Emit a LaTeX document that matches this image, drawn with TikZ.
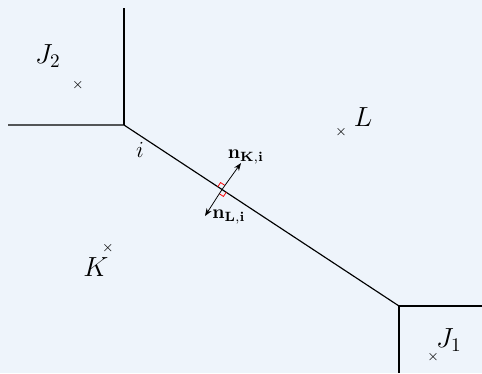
\documentclass[tikz,border=0pt]{standalone}
\usepackage{amsmath}
\usetikzlibrary{arrows.meta,calc}
\definecolor{bgblue}{RGB}{238,244,251}
\begin{document}
\begin{tikzpicture}[x=0.0183cm, y=-0.0183cm, >={Stealth[length=4pt,width=3pt]}]
    % Fond
    \fill[bgblue] (0,0) rectangle (482,373);
    \useasboundingbox (0,0) rectangle (482,373);

    % Sommets des arêtes
    \coordinate (top) at (124,8);
    \coordinate (left) at (8,125);
    \coordinate (A) at (124,125);
    \coordinate (B) at (399,306);
    \coordinate (right) at (482,306);
    \coordinate (bottom) at (399,373);

    % Arêtes du maillage
    \draw[semithick] (top) -- (A);
    \draw[semithick] (left) -- (A) -- (B);
    \draw[semithick] (B) -- (right);
    \draw[semithick] (B) -- (bottom);

    % Centres des mailles
    \node[inner sep=0pt, font=\scriptsize] (cJ2) at (78,85) {$\times$};
    \node[inner sep=0pt, font=\scriptsize] (cL) at (341,132) {$\times$};
    \node[inner sep=0pt, font=\scriptsize] (cK) at (108,248) {$\times$};
    \node[inner sep=0pt, font=\scriptsize] (cJ1) at (433,357) {$\times$};
    \node[font=\Large, inner sep=1pt] (lJ2) at (48,56) {$J_2$};
    \node[font=\Large, inner sep=1pt] (lL) at (363,117) {$L$};
    \node[font=\Large, inner sep=1pt] (lK) at (96,267) {$K$};
    \node[font=\Large, inner sep=1pt] (lJ1) at (449,340) {$J_1$};
    \node[font=\large, inner sep=1pt] (li) at (140,150) {$i$};

    % Normales
    \coordinate (M) at (222,189.5);
    \coordinate (nK) at (241,163);
    \coordinate (nL) at (205,216);
    \draw[red] ($(M)+(-4.2,-2.75)$) -- ($(M)+(-1.45,-6.95)$) -- ($(M)+(2.75,-4.2)$);
    \draw[red] ($(M)+(4.2,2.75)$) -- ($(M)+(1.45,6.95)$) -- ($(M)+(-2.75,4.2)$);
    \draw[->] (M) -- (nK);
    \draw[->] (M) -- (nL);
    \node (lnK) at (246,157) {$\mathbf{n_{K,i}}$};
    \node (lnL) at (229,217) {$\mathbf{n_{L,i}}$};
\end{tikzpicture}
\end{document}
